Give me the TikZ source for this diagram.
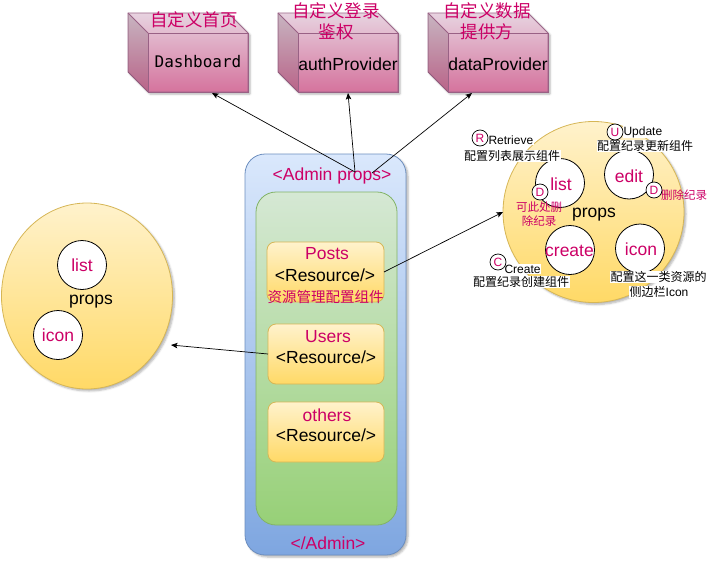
\documentclass[tikz,border=0pt]{standalone}
\usepackage{fontspec}
\setmainfont{Liberation Sans}
\newfontfamily\cjk{Noto Sans CJK SC}
\newfontfamily\monof{DejaVu Sans Mono}
\usetikzlibrary{arrows.meta,shapes.geometric,shadows.blur}
\definecolor{mag}{HTML}{CC0066}
\definecolor{ydraw}{HTML}{D6B656}
\definecolor{ytop}{HTML}{FFF2CC}
\definecolor{ybot}{HTML}{FFD966}
\definecolor{btop}{HTML}{DAE8FC}
\definecolor{bbot}{HTML}{7EA6E0}
\definecolor{bdraw}{HTML}{6C8EBF}
\definecolor{gtop}{HTML}{D5E8D4}
\definecolor{gbot}{HTML}{97D077}
\definecolor{gdraw}{HTML}{82B366}
\definecolor{ptop}{HTML}{E6D0DE}
\definecolor{pbot}{HTML}{D5739D}
\definecolor{pdraw}{HTML}{996185}
\newcommand\mycube[3]{%
  \path[cubebody] (#2,#3) -- ++(100,0) -- ++(20,20) -- ++(0,59) -- ++(-100,0) -- ++(-20,-20) -- cycle;
  \fill[black,opacity=.13] (#2,#3) -- ++(20,20) -- ++(0,59) -- ++(-20,-20) -- cycle;
  \fill[white,opacity=.06] (#2,#3) -- ++(100,0) -- ++(20,20) -- ++(-100,0) -- cycle;
  \draw[cubeline] (#2,#3) -- ++(20,20);
  \node[cubefront] (#1) at (#2+70,#3+49.5) {};
}
\begin{document}
\begin{tikzpicture}[x=1pt,y=-1pt,
  every node/.style={inner sep=0pt, outer sep=0pt},
  shad/.style={blur shadow={shadow xshift=2pt, shadow yshift=-2pt, shadow blur steps=5, shadow blur radius=2pt, shadow opacity=30}},
  cubebody/.style={shad, draw=pdraw, line width=0.8pt, top color=ptop, bottom color=pbot},
  cubeline/.style={draw=pdraw, line width=0.8pt},
  cubefront/.style={draw=pdraw, line width=0.8pt, minimum width=100pt, minimum height=59pt},
  lbl/.style={font=\fontsize{17.5}{21}\selectfont},
  maglbl/.style={lbl, text=mag},
  cjkmag/.style={text=mag, font=\cjk\fontsize{17.5}{21}\selectfont, align=center},
  monolbl/.style={font=\monof\fontsize{16}{19}\selectfont},
  smallcjk/.style={font=\cjk\fontsize{12}{15}\selectfont, fill=white, inner sep=0.5pt},
  smallsans/.style={font=\fontsize{12}{15}\selectfont, fill=white, inner sep=0.5pt},
  smallmag/.style={font=\cjk\fontsize{11.5}{13.5}\selectfont, text=mag, align=center},
  letter/.style={circle, draw=black, fill=white, minimum size=16pt, text=mag, font=\fontsize{12}{14}\selectfont, line width=0.7pt},
  innerc/.style={circle, draw=black, fill=white, minimum size=49pt, line width=0.8pt},
  bigcirc/.style={shad, draw=ydraw, top color=ytop, bottom color=ybot, line width=0.8pt},
  adminbox/.style={shad, draw=bdraw, top color=btop, bottom color=bbot, rounded corners=20pt, line width=0.8pt},
  greenbox/.style={draw=gdraw, top color=gtop, bottom color=gbot, rounded corners=20pt, line width=0.8pt},
  resbox/.style={draw=ydraw, top color=ytop, bottom color=ybot, rounded corners=8pt, line width=0.8pt, minimum width=116pt, minimum height=60pt},
  arr/.style={draw=black, line width=0.7pt, -{Stealth[length=6.5pt,width=5.5pt,inset=1.5pt]}}
]
\useasboundingbox (0,0) rectangle (728,570);

% cubes
\mycube{dash}{128}{13}
\mycube{auth}{278}{13}
\mycube{data}{428}{13}
\node[cjkmag] (dashcn) at (194,20) {自定义首页};
\node[cjkmag] (authcn) at (336,21) {自定义登录\\鉴权};
\node[cjkmag] (datacn) at (487,21) {自定义数据\\提供方};
\node[monolbl] (dashtx) at (198,62) {Dashboard};
\node[lbl] (authtx) at (348,64) {authProvider};
\node[lbl] (datatx) at (498,64) {dataProvider};

% left circle
\node[bigcirc, ellipse, minimum width=171pt, minimum height=186pt] (lc) at (87,296) {};
\node[innerc] (llist) at (82,265) {};
\node[maglbl] at (llist) {list};
\node[innerc] (licon) at (58,335) {};
\node[maglbl] at (licon) {icon};
\node[lbl] (lprops) at (91,302) {props};

% right circle
\node[bigcirc, circle, minimum size=181pt] (rc) at (593.5,212) {};
\node[innerc] (rlist) at (560,183) {};
\node[maglbl] at (561,184) {list};
\node[innerc] (redit) at (629,174.5) {};
\node[maglbl] at (629,176) {edit};
\node[innerc] (rcreate) at (570,250) {};
\node[maglbl] at (569.5,251) {create};
\node[innerc] (ricon) at (640,248.5) {};
\node[maglbl] at (641,249) {icon};
\node[lbl] (rprops) at (594,215) {props};

\node[smallsans, anchor=west] (retr) at (488,140) {Retrieve};
\node[smallcjk] (retrcn) at (512,156) {配置列表展示组件};
\node[smallsans, anchor=west] (upd) at (623,132) {Update};
\node[smallcjk] (updcn) at (645,146) {配置纪录更新组件};
\node[smallsans, anchor=west] (crt) at (504,269) {Create};
\node[smallcjk] (crtcn) at (521,282) {配置纪录创建组件};
\node[smallcjk] (iconcn1) at (658.5,277) {配置这一类资源的};
\node[smallcjk] (iconcn2) at (659,292) {侧边栏{\fontspec{Liberation Sans}Icon}};
\node[smallmag, anchor=west] (deledit) at (661,195) {删除纪录};
\node[smallmag] (dellist) at (539,214) {可此处删\\除纪录};

\node[letter] (lr) at (480,138) {R};
\node[letter] (lu) at (615,132) {U};
\node[letter] (lc1) at (498,262) {C};
\node[letter] (ld1) at (540,192) {D};
\node[letter] (ld2) at (654,190) {D};

% admin
\node[adminbox, minimum width=161pt, minimum height=401pt] (admin) at (325.5,354.5) {};
\node[greenbox, minimum width=141pt, minimum height=333pt] (green) at (326.5,358.5) {};
\node[resbox, minimum width=117pt] (posts) at (325.5,272) {};
\node[resbox] (users) at (326,354) {};
\node[resbox] (others) at (326,432) {};

\node[maglbl] (admintop) at (332,176) {<Admin props>};
\node[maglbl] (adminbot) at (328,543) {</Admin>};
\node[maglbl] (poststx) at (327,254) {Posts};
\node[lbl] (postsres) at (325,275) {<Resource/>};
\node[text=mag, font=\cjk\fontsize{14.5}{17}\selectfont] (postscn) at (325.5,297) {资源管理配置组件};
\node[maglbl] (userstx) at (328,337) {Users};
\node[lbl] (usersres) at (326,357) {<Resource/>};
\node[maglbl] (otherstx) at (327,415) {others};
\node[lbl] (othersres) at (326,435) {<Resource/>};

% connectors
\coordinate (t1) at (355,172);
\coordinate (t2) at (372,173);
\coordinate (h1) at (212,93);
\coordinate (h2) at (348,93);
\coordinate (h3) at (472,93);
\coordinate (lcin) at (171,345);
\draw[arr] (t1) -- (h1);
\draw[arr] (t1) -- (h2);
\draw[arr] (t2) -- (h3);
\draw[arr] (posts.east) -- (rc.west);
\draw[arr] (users.west) -- (lcin);
\end{tikzpicture}
\end{document}
